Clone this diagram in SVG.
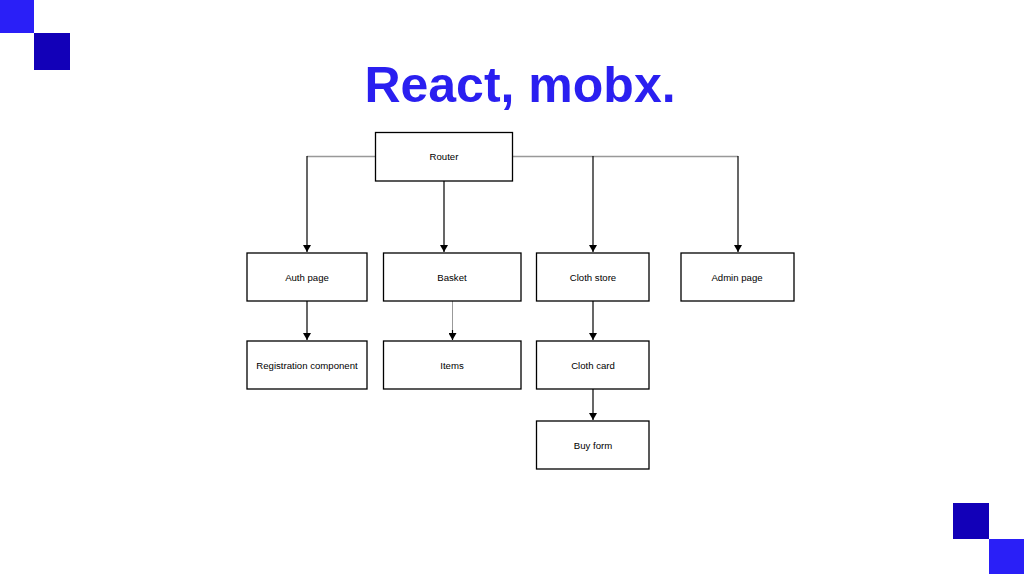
<svg xmlns="http://www.w3.org/2000/svg" width="1024" height="574" viewBox="0 0 1024 574">
<defs>
<style>
.n rect{fill:#fff;stroke:#000;stroke-width:1.3}
.n text{font-family:"Liberation Sans",Arial,sans-serif;font-size:9.6px;fill:#000;text-anchor:middle}
.v{stroke:#000;stroke-width:1.2;fill:none}
.h{stroke:#999;stroke-width:1.5;fill:none}
</style>
<marker id="a" markerWidth="8" markerHeight="8" refX="7" refY="4" orient="auto" markerUnits="userSpaceOnUse">
<path d="M0,0 L7,4 L0,8 Z" fill="#000"/>
</marker>
</defs>
<rect width="1024" height="574" fill="#fff"/>
<rect x="0" y="0" width="34" height="33" fill="#2a1ff7"/>
<rect x="34" y="33" width="36" height="37" fill="#1200b8"/>
<rect x="953" y="503" width="36" height="36" fill="#1200b8"/>
<rect x="989" y="539" width="35" height="35" fill="#2a1ff7"/>
<text x="520" y="102" font-family="Liberation Sans,Arial,sans-serif" font-weight="bold" font-size="50" fill="#2a1ff0" text-anchor="middle">React, mobx.</text>
<g id="connectors">
<path class="h" d="M375.5,156.5 H307"/>
<path class="h" d="M512.5,156.5 H738"/>
<path class="v" d="M307,156 V252" marker-end="url(#a)"/>
<path class="v" d="M444,181 V252" marker-end="url(#a)"/>
<path class="v" d="M593,156 V252" marker-end="url(#a)"/>
<path class="v" d="M738,156 V252" marker-end="url(#a)"/>
<path class="v" d="M307,301 V340" marker-end="url(#a)"/>
<path class="h" d="M452.5,301 V330" style="stroke-width:1"/>
<path class="v" d="M452.5,330 V340" marker-end="url(#a)"/>
<path class="v" d="M593,301 V340" marker-end="url(#a)"/>
<path class="v" d="M593,389 V420" marker-end="url(#a)"/>
</g>
<g id="router" class="n"><rect x="375.5" y="132.5" width="137" height="48.5"/><text x="444" y="160">Router</text></g>
<g id="auth" class="n"><rect x="247" y="253" width="120" height="48"/><text x="307" y="280.5">Auth page</text></g>
<g id="basket" class="n"><rect x="383.5" y="253" width="137.5" height="48"/><text x="452" y="280.5">Basket</text></g>
<g id="clothstore" class="n"><rect x="536.5" y="253" width="112.5" height="48"/><text x="593" y="280.5">Cloth store</text></g>
<g id="admin" class="n"><rect x="681" y="253" width="113" height="48"/><text x="737" y="280.5">Admin page</text></g>
<g id="registration" class="n"><rect x="247" y="341" width="120" height="48"/><text x="307" y="368.5">Registration component</text></g>
<g id="items" class="n"><rect x="383.5" y="341" width="137.5" height="48"/><text x="452" y="368.5">Items</text></g>
<g id="clothcard" class="n"><rect x="536.5" y="341" width="112.5" height="48"/><text x="593" y="368.5">Cloth card</text></g>
<g id="buyform" class="n"><rect x="536.5" y="421" width="112.5" height="48"/><text x="593" y="448.5">Buy form</text></g>
</svg>
